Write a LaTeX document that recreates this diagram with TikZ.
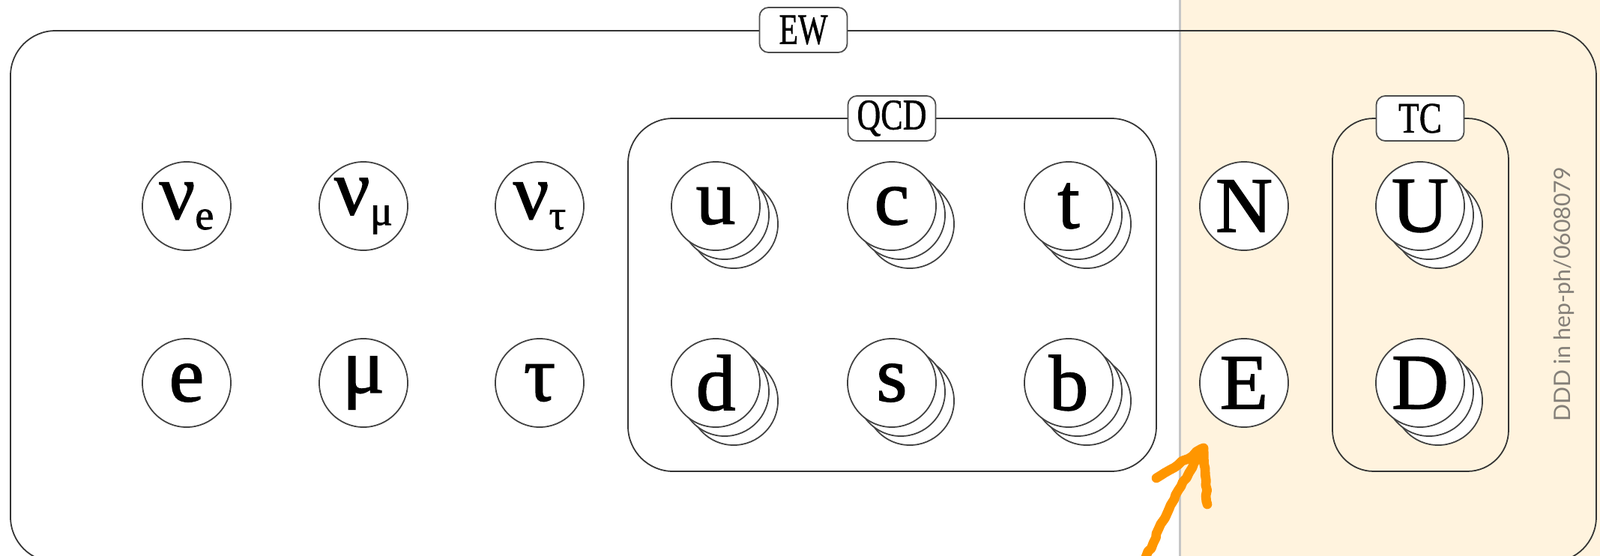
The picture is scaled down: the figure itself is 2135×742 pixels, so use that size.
\documentclass[tikz,border=0pt]{standalone}
\usepackage{fontspec}
\newfontfamily\glyph[FakeBold=1.3]{Liberation Serif}
\newfontfamily\tagfont[FakeBold=1]{Liberation Serif}
\newfontfamily\notefont{Lato}
\usetikzlibrary{shadows,decorations.pathmorphing}
\definecolor{beige}{RGB}{255,243,222}
\definecolor{notegray}{RGB}{132,127,120}
\definecolor{crayonorange}{RGB}{255,150,0}
\begin{document}
\begin{tikzpicture}[x=0.01cm,y=-0.01cm,
  part/.style={circle, draw=black!75, line width=0.5pt, fill=white, minimum size=1.18cm, inner sep=0pt, font=\fontsize{30}{30}\selectfont\glyph},
  stack/.style={
    general shadow={shadow xshift=0.24cm, shadow yshift=-0.24cm, fill=white, draw=black!75, line width=0.5pt},
    general shadow={shadow xshift=0.12cm, shadow yshift=-0.12cm, fill=white, draw=black!75, line width=0.5pt}},
  group/.style={draw=black!80, line width=0.5pt, rounded corners=0.6cm},
  tag/.style={draw=black!70, fill=white, rounded corners=0.12cm, line width=0.5pt, minimum width=1.17cm, minimum height=0.6cm, inner sep=0pt, font=\fontsize{16.5}{16.5}\selectfont\tagfont},
  crayon/.style={draw=crayonorange, line width=3.6pt, line cap=round, line join=round, decorate, decoration={random steps, segment length=2pt, amplitude=0.35pt}},
]
\path[use as bounding box] (0,0) rectangle (2135,742);
\clip (0,0) rectangle (2135,742);
% background
\fill[beige] (1575,0) rectangle (2135,742);
\draw[gray!45, line width=0.85pt] (1574,0) -- (1574,742);
% group boxes
\draw[group] (14,41) rectangle (2130,750);
\draw[group] (838,158) rectangle (1543,629);
\draw[group, rounded corners=0.55cm] (1778,158) rectangle (2013,629);
% leptons
\node[part] (nue) at (249,275) {ν\raisebox{-4pt}{\fontsize{16}{16}\selectfont e}};
\node[part] (numu) at (485,275) {ν\raisebox{-4pt}{\fontsize{16}{16}\selectfont μ}};
\node[part] (nutau) at (720,275) {ν\raisebox{-4pt}{\fontsize{16}{16}\selectfont τ}};
\node[part] (e) at (249,511) {e};
\node[part] (mu) at (485,511) {μ};
\node[part] (tau) at (720,511) {τ};
% quarks
\node[part,stack] (u) at (955,275) {u};
\node[part,stack] (c) at (1190,275) {c};
\node[part,stack] (t) at (1426,275) {t};
\node[part,stack] (d) at (955,511) {d};
\node[part,stack] (s) at (1190,511) {s};
\node[part,stack] (b) at (1426,511) {b};
% new particles
\node[part] (N) at (1660,275) {N};
\node[part] (E) at (1660,511) {E};
\node[part,stack] (U) at (1895,275) {U};
\node[part,stack] (D) at (1895,511) {D};
% labels
\node[tag] (ew) at (1072,40) {\scalebox{0.72}[1]{EW}};
\node[tag] (qcd) at (1190,158) {\scalebox{0.76}[1]{QCD}};
\node[tag] (tc) at (1895,158) {\scalebox{0.78}[1]{TC}};
% note
\node[rotate=90, text=notegray, font=\notefont\fontsize{8.6}{8.6}\selectfont] (note) at (2087,393) {DDD in hep-ph/0608079};
% arrow
\coordinate (arrowTail) at (1527,750);
\coordinate (arrowTip) at (1606,598);
\coordinate (barbL) at (1543,638);
\coordinate (barbR) at (1611,673);
\draw[crayon] (arrowTail) .. controls (1555,685) and (1585,630) .. (arrowTip);
\draw[crayon] (barbL) -- (arrowTip) -- (barbR);
\end{tikzpicture}
\end{document}
